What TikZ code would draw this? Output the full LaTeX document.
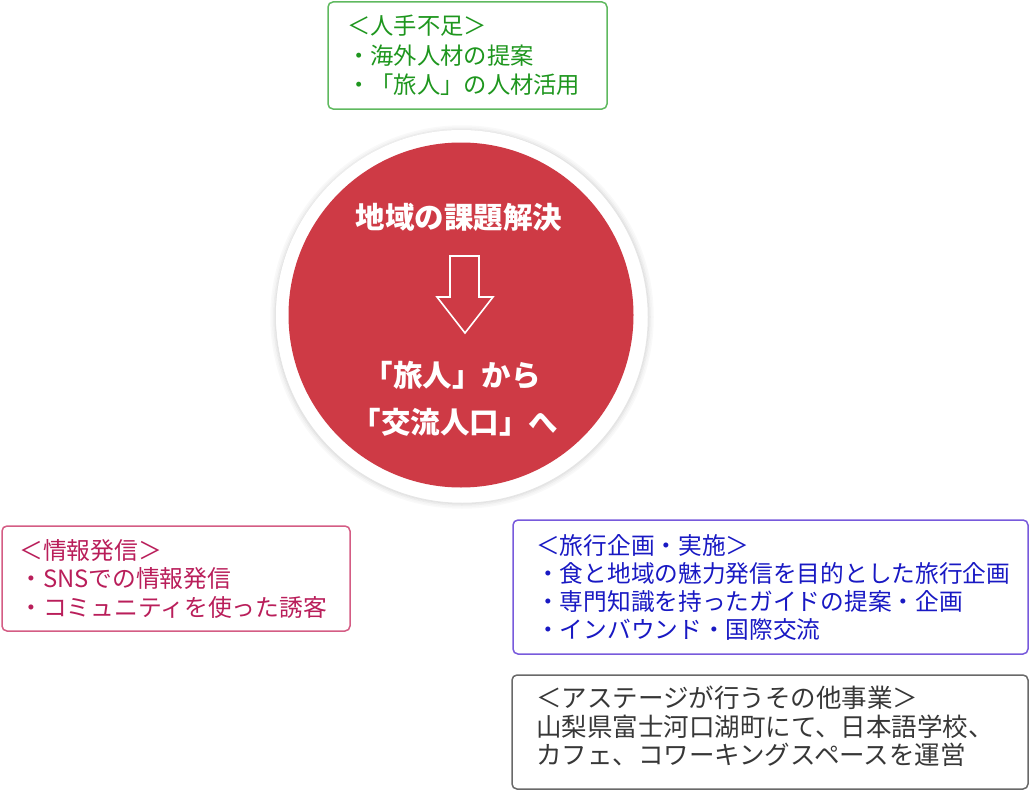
\documentclass[tikz,border=0pt]{standalone}
\usepackage{fontspec}
\setmainfont{Noto Sans CJK JP}
\definecolor{cred}{RGB}{206,58,69}
\definecolor{gborder}{RGB}{95,185,95}
\definecolor{gtext}{RGB}{30,150,30}
\definecolor{pborder}{RGB}{212,92,132}
\definecolor{ptext}{RGB}{185,30,90}
\definecolor{bborder}{RGB}{120,90,220}
\definecolor{btext}{RGB}{25,25,195}
\definecolor{kborder}{RGB}{105,105,105}
\definecolor{ktext}{RGB}{55,55,55}
\newcommand{\jlines}[2]{\vtop{\baselineskip=#1\lineskiplimit=-1000pt\lineskip=0pt #2}}
\tikzset{
  box/.style={draw=#1, line width=1.5pt, rounded corners=5pt},
  btxt/.style={anchor=base west, inner sep=0pt, text=#1},
  ctxt/.style={text=white, inner sep=0pt, font=\fontsize{29.5}{34}\selectfont\bfseries},
}
\begin{document}
\begin{tikzpicture}[x=1pt,y=-1pt]
\useasboundingbox (0,0) rectangle (1030,792);
% circle with white ring and soft shadow
\coordinate (cc) at (461,315);
\foreach \r/\o in {191/0.025,189.5/0.04,188/0.07,186.5/0.1}
  \draw[black, opacity=\o, line width=1.5pt] ([shift={(1,2)}]cc) circle (\r);
\node[circle, fill=white, minimum size=370pt, inner sep=0pt] (ring) at (cc) {};
\node[circle, fill=cred, minimum size=345pt, inner sep=0pt] (c) at (cc) {};
\node[ctxt] (t1) at (459,217.5) {地域の課題解決};
\draw[white, line width=1.6pt, line join=miter]
  (450,256) -- (479,256) -- (479,297) -- (493,297) -- (465,333) -- (437,297) -- (450,297) -- cycle;
\node[ctxt] (t2) at (452,375) {「旅人」から};
\node[ctxt] (t3) at (455,422.5) {「交流人口」へ};
% green box
\draw[box=gborder] (328,2) rectangle (607,109);
\node[btxt=gtext, font=\fontsize{23.3}{29.5}\selectfont] (g) at (347,34.8)
  {\jlines{29.5pt}{\hbox{＜人手不足＞}\hbox{・海外人材の提案}\hbox{・「旅人」の人材活用}}};
% pink box
\draw[box=pborder] (2,526) rectangle (350,631);
\node[btxt=ptext, font=\fontsize{23.8}{28.5}\selectfont] (p) at (19,559)
  {\jlines{28.5pt}{\hbox{＜情報発信＞}\hbox{・SNSでの情報発信}\hbox{・コミュニティを使った誘客}}};
% blue box
\draw[box=bborder] (513,520) rectangle (1028,654);
\node[btxt=btext, font=\fontsize{23.7}{28.3}\selectfont] (b) at (536,554)
  {\jlines{28.3pt}{\hbox{＜旅行企画・実施＞}\hbox{・食と地域の魅力発信を目的とした旅行企画}\hbox{・専門知識を持ったガイドの提案・企画}\hbox{・インバウンド・国際交流}}};
% gray box
\draw[box=kborder] (512,675) rectangle (1028,789);
\node[btxt=ktext, font=\fontsize{25.5}{28.5}\selectfont] (k) at (536,707.5)
  {\jlines{28.5pt}{\hbox{＜アステージが行うその他事業＞}\hbox{山梨県富士河口湖町にて、日本語学校、}\hbox{カフェ、コワーキングスペースを運営}}};
\end{tikzpicture}
\end{document}
